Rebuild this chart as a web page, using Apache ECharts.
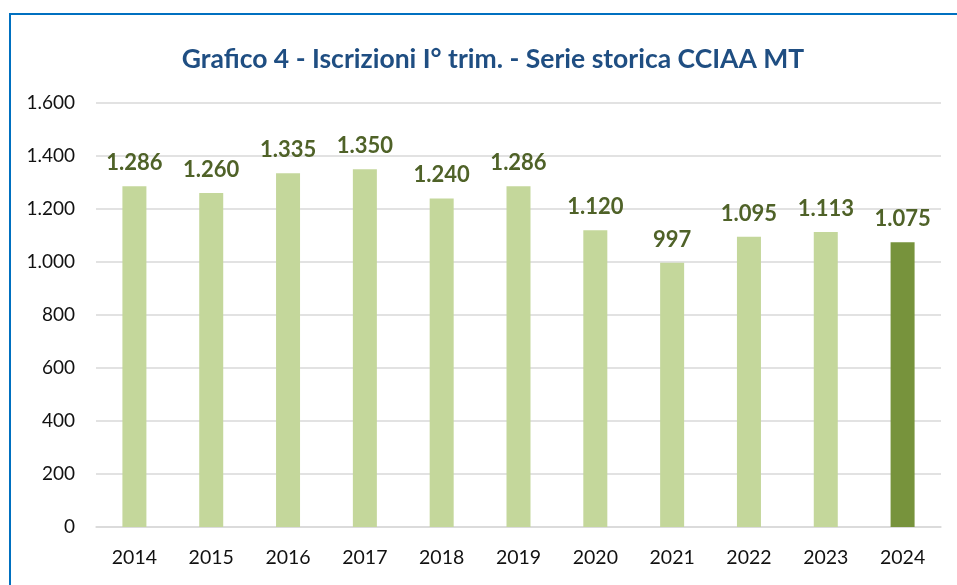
<!DOCTYPE html>
<html>
<head>
<meta charset="utf-8">
<script src="https://cdn.jsdelivr.net/npm/echarts@6/dist/echarts.min.js"></script>
<style>
html, body { margin: 0; padding: 0; background: #fff; }
#frame { position: absolute; left: 9px; top: 13px; width: 960px; height: 590px; border-left: 2px solid #0070c0; border-top: 2px solid #0070c0; box-sizing: border-box; }
#chart { position: absolute; left: 0; top: 0; width: 957px; height: 585px; }
</style>
</head>
<body>
<div id="frame"></div>
<div id="chart"></div>
<script>
var years = ['2014', '2015', '2016', '2017', '2018', '2019', '2020', '2021', '2022', '2023', '2024'];
var iscrizioni = [1286, 1260, 1335, 1350, 1240, 1286, 1120, 997, 1095, 1113, 1075];
var yTicks = [0, 200, 400, 600, 800, 1000, 1200, 1400, 1600];

function fmt(v) {
	return String(v).replace(/\B(?=(\d{3})+(?!\d))/g, '.');
}

var barData = [];
for (var i = 0; i < iscrizioni.length; i++) {
	barData.push({
		value : iscrizioni[i],
		itemStyle : { color : i == iscrizioni.length - 1 ? '#77933c' : '#c4d79b' }
	});
}

var chart = echarts.init(document.getElementById('chart'));
chart.setOption({
	animation : false,
	title : {
		text : 'Grafico 4 - Iscrizioni I° trim. - Serie storica CCIAA MT',
		left : 488,
		textAlign : 'center',
		top : 41,
		textStyle : { fontFamily : 'Lato', fontWeight : 'bold', fontSize : 26.5, color : '#1f4e82' }
	},
	grid : { left : 96, right : 16, top : 103, bottom : 58, containLabel : false },
	xAxis : {
		type : 'category',
		data : years,
		axisLine : { lineStyle : { color : '#d9d9d9', width : 1.5 } },
		axisTick : { show : false },
		axisLabel : { color : '#111', fontSize : 19.5, fontFamily : 'Lato', margin : 21 }
	},
	yAxis : {
		type : 'value',
		min : yTicks[0],
		max : yTicks[yTicks.length - 1],
		interval : 200,
		axisLine : { show : false },
		axisTick : { show : false },
		splitLine : { lineStyle : { color : '#d9d9d9', width : 1.5 } },
		axisLabel : { color : '#111', fontSize : 19, fontFamily : 'Lato', margin : 21, formatter : fmt }
	},
	series : [ {
		type : 'bar',
		data : barData,
		barWidth : 24,
		label : {
			show : true,
			position : 'top',
			distance : 12,
			color : '#4f6228',
			fontWeight : 'bold',
			fontSize : 22,
			fontFamily : 'Lato',
			formatter : function(p) { return fmt(p.value); }
		}
	} ]
});
</script>
</body>
</html>
